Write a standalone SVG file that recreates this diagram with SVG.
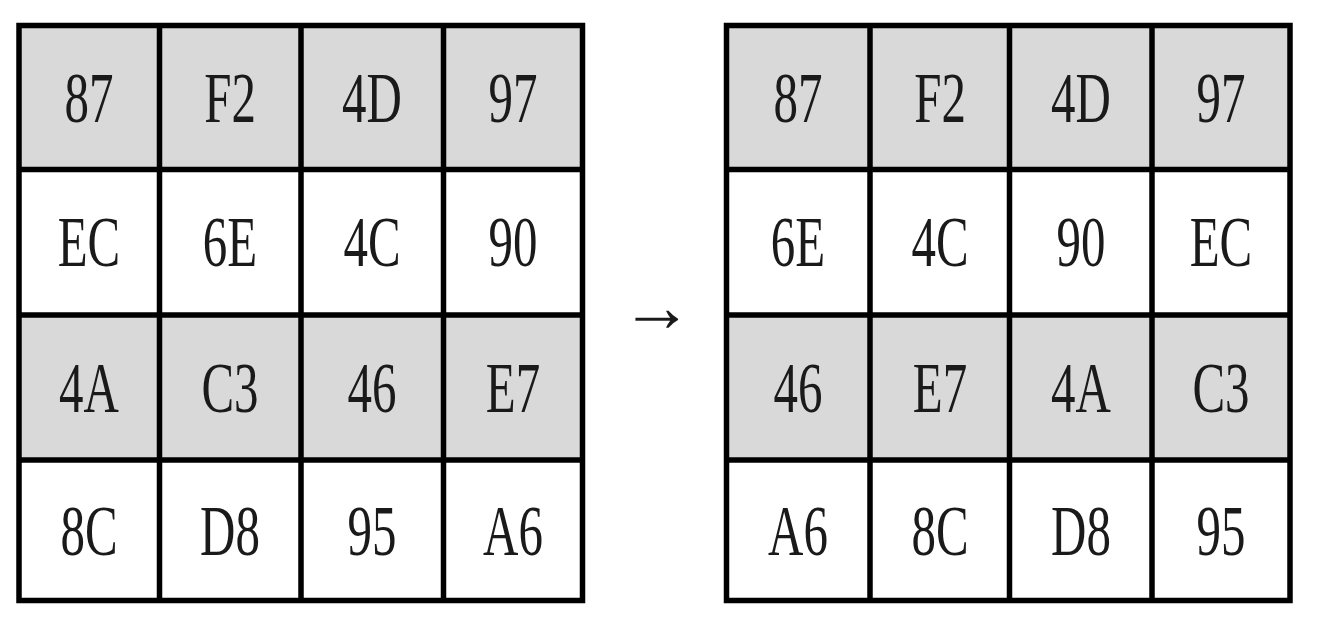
<svg xmlns="http://www.w3.org/2000/svg" width="1328" height="626" viewBox="0 0 1328 626" font-family="'Liberation Serif', 'Times New Roman', Times, serif">
<style>
.g{fill:#d9d9d9}
.ln{stroke:#000;stroke-width:5.5;fill:none}
.t{font-family:'Liberation Serif','Times New Roman',Times,serif;font-size:72px;fill:#1a1a1a;text-anchor:middle}
</style>
<rect width="1328" height="626" fill="#fff"/>
<g id="left-grid">
<rect class="g" x="19" y="25" width="563.5" height="144.5"/>
<rect class="g" x="19" y="315" width="563.5" height="145"/>
<g id="L11"><text class="t" transform="translate(89,122) scale(0.68,1)">87</text></g>
<g id="L12"><text class="t" transform="translate(230,122) scale(0.68,1)">F2</text></g>
<g id="L13"><text class="t" transform="translate(372,122) scale(0.68,1)">4D</text></g>
<g id="L14"><text class="t" transform="translate(513,122) scale(0.68,1)">97</text></g>
<g id="L21"><text class="t" transform="translate(89,266) scale(0.68,1)">EC</text></g>
<g id="L22"><text class="t" transform="translate(230,266) scale(0.68,1)">6E</text></g>
<g id="L23"><text class="t" transform="translate(372,266) scale(0.68,1)">4C</text></g>
<g id="L24"><text class="t" transform="translate(513,266) scale(0.68,1)">90</text></g>
<g id="L31"><text class="t" transform="translate(89,412) scale(0.68,1)">4A</text></g>
<g id="L32"><text class="t" transform="translate(230,412) scale(0.68,1)">C3</text></g>
<g id="L33"><text class="t" transform="translate(372,412) scale(0.68,1)">46</text></g>
<g id="L34"><text class="t" transform="translate(513,412) scale(0.68,1)">E7</text></g>
<g id="L41"><text class="t" transform="translate(89,555) scale(0.68,1)">8C</text></g>
<g id="L42"><text class="t" transform="translate(230,555) scale(0.68,1)">D8</text></g>
<g id="L43"><text class="t" transform="translate(372,555) scale(0.68,1)">95</text></g>
<g id="L44"><text class="t" transform="translate(513,555) scale(0.68,1)">A6</text></g>
<path class="ln" d="M19 25.5H582.5V600.5H19Z M159.5 25.5V600.5 M301 25.5V600.5 M443.5 25.5V600.5 M19 169.5H582.5 M19 315H582.5 M19 460H582.5"/>
</g>
<g id="right-grid">
<rect class="g" x="726.5" y="25" width="563.5" height="144.5"/>
<rect class="g" x="726.5" y="315" width="563.5" height="145"/>
<g id="R11"><text class="t" transform="translate(798,122) scale(0.68,1)">87</text></g>
<g id="R12"><text class="t" transform="translate(940,122) scale(0.68,1)">F2</text></g>
<g id="R13"><text class="t" transform="translate(1081,122) scale(0.68,1)">4D</text></g>
<g id="R14"><text class="t" transform="translate(1221,122) scale(0.68,1)">97</text></g>
<g id="R21"><text class="t" transform="translate(798,266) scale(0.68,1)">6E</text></g>
<g id="R22"><text class="t" transform="translate(940,266) scale(0.68,1)">4C</text></g>
<g id="R23"><text class="t" transform="translate(1081,266) scale(0.68,1)">90</text></g>
<g id="R24"><text class="t" transform="translate(1221,266) scale(0.68,1)">EC</text></g>
<g id="R31"><text class="t" transform="translate(798,412) scale(0.68,1)">46</text></g>
<g id="R32"><text class="t" transform="translate(940,412) scale(0.68,1)">E7</text></g>
<g id="R33"><text class="t" transform="translate(1081,412) scale(0.68,1)">4A</text></g>
<g id="R34"><text class="t" transform="translate(1221,412) scale(0.68,1)">C3</text></g>
<g id="R41"><text class="t" transform="translate(798,555) scale(0.68,1)">A6</text></g>
<g id="R42"><text class="t" transform="translate(940,555) scale(0.68,1)">8C</text></g>
<g id="R43"><text class="t" transform="translate(1081,555) scale(0.68,1)">D8</text></g>
<g id="R44"><text class="t" transform="translate(1221,555) scale(0.68,1)">95</text></g>
<path class="ln" d="M726.5 25.5H1290V600.5H726.5Z M870 25.5V600.5 M1009.5 25.5V600.5 M1152 25.5V600.5 M726.5 169.5H1290 M726.5 315H1290 M726.5 460H1290"/>
</g>
<g id="connectors">
<text class="t" x="656.5" y="331" style="font-size:72px">→</text>
</g>
</svg>
